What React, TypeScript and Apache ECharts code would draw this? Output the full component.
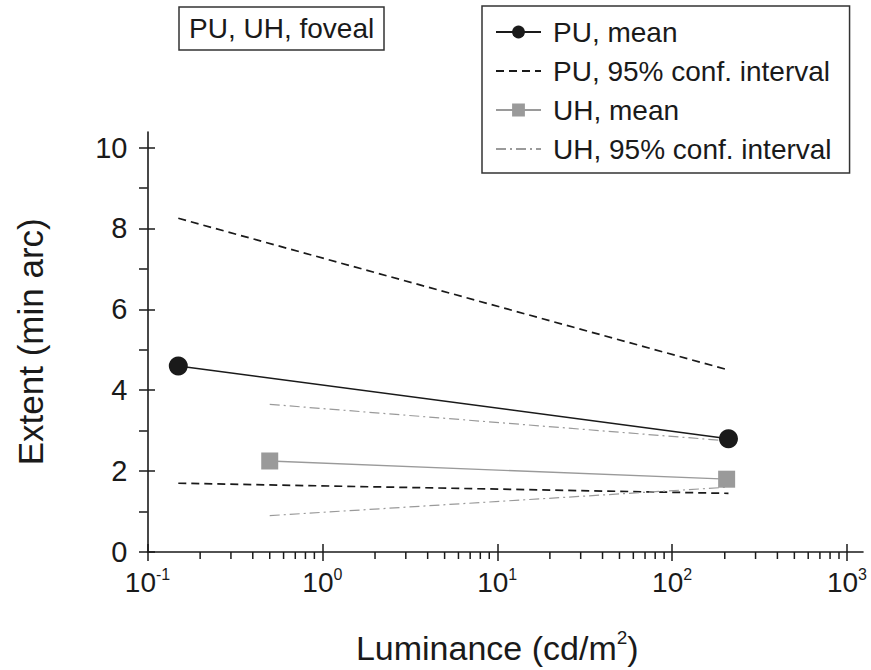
import React, { useEffect, useRef } from "react";
import * as echarts from "echarts";

// Luminance (cd/m²) at which each group was measured
const puLuminance = [0.15, 210];
const uhLuminance = [0.5, 205];

// Extent (min arc)
const puMean = [4.6, 2.8];
const puUpper = [8.25, 4.5];
const puLower = [1.7, 1.45];
const uhMean = [2.25, 1.8];
const uhUpper = [3.65, 2.75];
const uhLower = [0.9, 1.6];

// Minor tick positions on the logarithmic luminance axis
const xMinorTicks = [
  0.2, 0.3, 0.4, 0.5, 0.6, 0.7, 0.8, 0.9,
  2, 3, 4, 5, 6, 7, 8, 9,
  20, 30, 40, 50, 60, 70, 80, 90,
  200, 300, 400, 500, 600, 700, 800, 900,
];

const legendNames = [
  "PU, mean",
  "PU, 95% conf. interval",
  "UH, mean",
  "UH, 95% conf. interval",
];
// interval entries are drawn as bare lines in the legend
const legendLineOnly = [false, true, false, true];

const FONT = "'Liberation Sans', Arial, Helvetica, sans-serif";
const INK = "#1a1a1a";
const GREY = "#9a9a9a";

const pairs = (xs: number[], ys: number[]) => xs.map((x, i) => [x, ys[i]]);

export default function App() {
  const ref = useRef<HTMLDivElement>(null);

  useEffect(() => {
    if (!ref.current) return;
    const chart = echarts.init(ref.current, null, { renderer: "svg" });

    const plotGrid = { left: 147.5, right: 24, top: 147.5, bottom: 118 };
    const frameGrid = { left: 147.5, right: 8, top: 132, bottom: 118 };

    const tickLine = { color: INK, width: 1.5 };

    const option: any = {
      animation: false,
      backgroundColor: "#ffffff",
      textStyle: { fontFamily: FONT },
      title: {
        text: "PU, UH, foveal",
        left: 179,
        top: 7,
        padding: [7, 10, 8, 10],
        borderColor: "#333",
        borderWidth: 1.5,
        textStyle: { fontFamily: FONT, fontSize: 28, fontWeight: "normal", color: INK },
      },
      legend: {
        data: legendNames.map((name, i) =>
          legendLineOnly[i] ? { name, itemStyle: { opacity: 0 } } : { name }
        ),
        orient: "vertical",
        left: 482,
        top: 6,
        padding: [12, 18, 10, 13],
        itemGap: 11,
        itemWidth: 45,
        itemHeight: 16,
        borderColor: "#333",
        borderWidth: 1.5,
        textStyle: { fontFamily: FONT, fontSize: 28, color: INK, padding: [0, 0, 0, 7] },
      },
      grid: [plotGrid, frameGrid],
      xAxis: [
        {
          type: "log",
          logBase: 10,
          min: 0.1,
          max: 1000,
          gridIndex: 0,
          position: "bottom",
          axisLine: { show: false },
          axisTick: { show: true, inside: false, length: 9, lineStyle: tickLine },
          splitLine: { show: false },
          axisLabel: {
            margin: 14,
            color: INK,
            formatter: (v: number) => `{b|10}{s|${Math.round(Math.log10(v))}}`,
            rich: {
              b: { fontFamily: FONT, fontSize: 28, color: INK },
              s: { fontFamily: FONT, fontSize: 16, color: INK, padding: [0, 0, 16, 0] },
            },
          },
          name: "Luminance (cd/m{s|2})",
          nameLocation: "middle",
          nameGap: 76,
          nameTextStyle: {
            fontFamily: FONT,
            fontSize: 34,
            color: INK,
            rich: {
              s: { fontFamily: FONT, fontSize: 19, color: INK, padding: [0, 0, 20, 0] },
            },
          },
        },
        {
          type: "log",
          logBase: 10,
          min: 0.1,
          max: 1000,
          gridIndex: 0,
          position: "bottom",
          offset: 0,
          axisLine: { show: false },
          axisTick: { show: true, inside: true, length: 8, lineStyle: tickLine },
          axisLabel: { show: false },
          splitLine: { show: false },
        },
        {
          type: "value",
          gridIndex: 1,
          position: "bottom",
          axisLine: { show: true, lineStyle: { color: INK, width: 1.6 } },
          axisTick: { show: false },
          axisLabel: { show: false },
          splitLine: { show: false },
        },
      ],
      yAxis: [
        {
          type: "value",
          min: 0,
          max: 10,
          interval: 2,
          gridIndex: 0,
          position: "left",
          axisLine: { show: false },
          axisTick: { show: true, inside: false, length: 8.5, lineStyle: tickLine },
          minorTick: { show: true, splitNumber: 2, length: 8.5, lineStyle: tickLine },
          splitLine: { show: false },
          axisLabel: { margin: 20, color: INK, fontFamily: FONT, fontSize: 29 },
          name: "Extent (min arc)",
          nameLocation: "middle",
          nameGap: 100,
          nameTextStyle: { fontFamily: FONT, fontSize: 35, color: INK, padding: [0, 0, 0, 16] },
        },
        {
          type: "value",
          min: 0,
          max: 10,
          interval: 2,
          gridIndex: 0,
          position: "left",
          offset: 0,
          axisLine: { show: false },
          axisTick: { show: true, inside: true, length: 7.5, lineStyle: tickLine },
          axisLabel: { show: false },
          splitLine: { show: false },
        },
        {
          type: "value",
          gridIndex: 1,
          position: "left",
          axisLine: { show: true, lineStyle: { color: INK, width: 1.6 } },
          axisTick: { show: false },
          axisLabel: { show: false },
          splitLine: { show: false },
        },
      ],
      series: [
        {
          name: "PU, mean",
          type: "line",
          data: pairs(puLuminance, puMean),
          symbol: "circle",
          symbolSize: 19,
          itemStyle: { color: INK },
          lineStyle: { color: INK, width: 1.5 },
          z: 5,
        },
        {
          name: "PU, 95% conf. interval",
          type: "line",
          data: pairs(puLuminance, puUpper),
          symbol: "none",
          itemStyle: { color: INK },
          lineStyle: { color: INK, width: 1.7, type: [8, 5] },
        },
        {
          name: "PU, 95% conf. interval",
          type: "line",
          data: pairs(puLuminance, puLower),
          symbol: "none",
          itemStyle: { color: INK },
          lineStyle: { color: INK, width: 1.7, type: [8, 5] },
        },
        {
          name: "UH, mean",
          type: "line",
          data: pairs(uhLuminance, uhMean),
          symbol: "rect",
          symbolSize: 17,
          itemStyle: { color: GREY },
          lineStyle: { color: GREY, width: 1.3 },
          z: 4,
        },
        {
          name: "UH, 95% conf. interval",
          type: "line",
          data: pairs(uhLuminance, uhUpper),
          symbol: "none",
          itemStyle: { color: GREY },
          lineStyle: { color: GREY, width: 1.2, type: [10, 4, 2, 4] },
        },
        {
          name: "UH, 95% conf. interval",
          type: "line",
          data: pairs(uhLuminance, uhLower),
          symbol: "none",
          itemStyle: { color: GREY },
          lineStyle: { color: GREY, width: 1.2, type: [10, 4, 2, 4] },
        },
        {
          name: "x minor ticks",
          type: "custom",
          xAxisIndex: 0,
          yAxisIndex: 0,
          silent: true,
          clip: false,
          data: xMinorTicks.map((v) => [v, 0]),
          encode: { x: 0, y: 1 },
          renderItem: (_params: any, api: any) => {
            const p = api.coord([api.value(0), api.value(1)]);
            return {
              type: "line",
              shape: { x1: p[0], y1: p[1], x2: p[0], y2: p[1] + 7 },
              style: { stroke: INK, lineWidth: 1.5 },
            };
          },
        },
      ],
    };

    chart.setOption(option);
    return () => chart.dispose();
  }, []);

  return (
    <div
      ref={ref}
      style={{ position: "fixed", left: 0, top: 0, width: 871, height: 670 }}
    />
  );
}
